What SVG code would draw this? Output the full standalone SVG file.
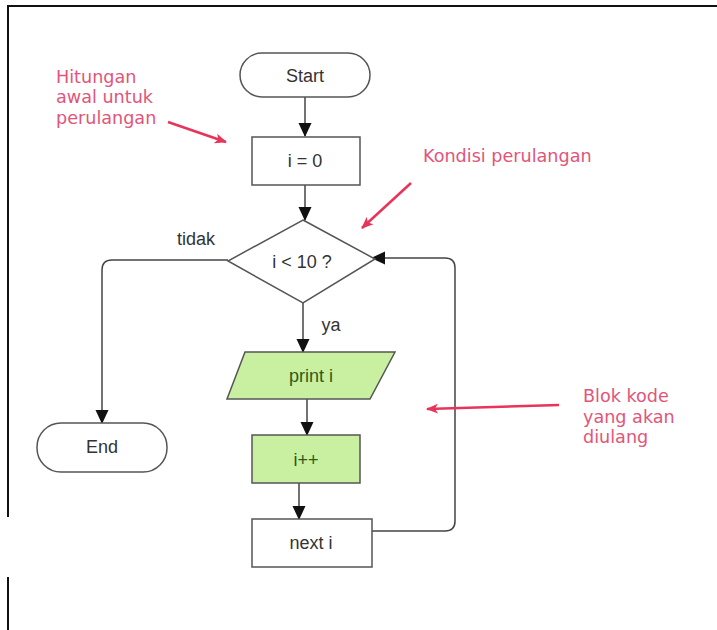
<svg xmlns="http://www.w3.org/2000/svg" width="717" height="630" viewBox="0 0 717 630">
<defs>
<style>
.node{fill:#fff;stroke:#555;stroke-width:1.5}
.green{fill:#c8f0a0;stroke:#555;stroke-width:1.5}
.lbl{font-family:"Liberation Sans",Arial,sans-serif;font-size:18px;fill:#333;text-anchor:middle}
.glbl{font-family:"Liberation Sans",Arial,sans-serif;font-size:18px;fill:#2d5a1a;text-anchor:middle}
.conn{fill:none;stroke:#444;stroke-width:1.5}
.note{font-family:"DejaVu Sans",Verdana,sans-serif;font-size:17.6px;fill:#e2557a}
.red{fill:none;stroke:#e8335a;stroke-width:2.5}
</style>
<marker id="ah" markerWidth="14" markerHeight="14" viewBox="0 0 14 14" refX="13" refY="7" orient="auto" markerUnits="userSpaceOnUse">
<path d="M0,0.5 L14,7 L0,13.5 z" fill="#111"/>
</marker>
<marker id="rh" markerWidth="12" markerHeight="12" viewBox="0 0 12 12" refX="11" refY="6" orient="auto" markerUnits="userSpaceOnUse">
<path d="M0,1 L12,6 L0,11 L3,6 z" fill="#e8335a"/>
</marker>
</defs>
<rect width="717" height="630" fill="#fff"/>
<g id="frame" stroke="#111" stroke-width="2">
<line x1="8" y1="6" x2="717" y2="6"/>
<line x1="8" y1="5" x2="8" y2="517"/>
<line x1="8" y1="577" x2="8" y2="630"/>
</g>
<g id="connectors">
<line class="conn" x1="305" y1="97" x2="305" y2="136" marker-end="url(#ah)"/>
<line class="conn" x1="305" y1="185" x2="305" y2="220" marker-end="url(#ah)"/>
<path class="conn" d="M228,260 H112 Q102,260 102,270 V423" marker-end="url(#ah)"/>
<line class="conn" x1="303" y1="303" x2="303" y2="352" marker-end="url(#ah)"/>
<line class="conn" x1="307" y1="399" x2="307" y2="435" marker-end="url(#ah)"/>
<line class="conn" x1="299" y1="483" x2="299" y2="519" marker-end="url(#ah)"/>
<path class="conn" d="M372,531 H445 Q455,531 455,521 V268 Q455,258 445,258 H372" marker-end="url(#ah)"/>
<text class="lbl" x="196" y="245">tidak</text>
<text class="lbl" x="331" y="331">ya</text>
</g>
<g id="start"><rect class="node" x="240" y="53" width="130" height="44" rx="22"/><text class="lbl" x="305" y="82">Start</text></g>
<g id="init"><rect class="node" x="252" y="137" width="108" height="48"/><text class="lbl" x="305" y="167">i = 0</text></g>
<g id="cond"><polygon class="node" points="303,220 375,259 303,303 228,261"/><text class="lbl" x="302" y="268">i &lt; 10 ?</text></g>
<g id="end"><rect class="node" x="37" y="423" width="130" height="49" rx="24"/><text class="lbl" x="102" y="453">End</text></g>
<g id="print"><polygon class="green" points="245,352 395,352 370,399 227,399"/><text class="glbl" x="311" y="382">print i</text></g>
<g id="inc"><rect class="green" x="252" y="435" width="108" height="48"/><text class="glbl" x="306" y="466">i++</text></g>
<g id="next"><rect class="node" x="252" y="519" width="120" height="48"/><text class="lbl" x="311" y="549">next i</text></g>
<g id="notes">
<text class="note" x="56" y="83">Hitungan</text>
<text class="note" x="56" y="103">awal untuk</text>
<text class="note" x="56" y="124">perulangan</text>
<line class="red" x1="168" y1="122" x2="226" y2="142" marker-end="url(#rh)"/>
<text class="note" x="423" y="162">Kondisi perulangan</text>
<line class="red" x1="411" y1="183" x2="362" y2="228" marker-end="url(#rh)"/>
<text class="note" x="583" y="402">Blok kode</text>
<text class="note" x="583" y="423">yang akan</text>
<text class="note" x="583" y="443">diulang</text>
<line class="red" x1="559" y1="405" x2="427" y2="409" marker-end="url(#rh)"/>
</g>
</svg>
